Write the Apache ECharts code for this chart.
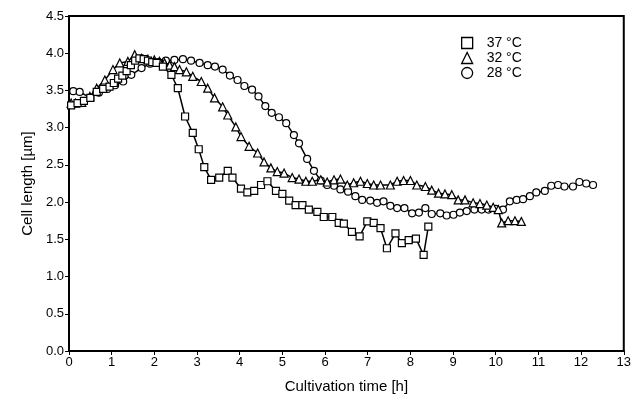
<!DOCTYPE html>
<html>
<head>
<meta charset="utf-8">
<script src="https://cdn.jsdelivr.net/npm/echarts@6/dist/echarts.min.js"></script>
<style>html,body{margin:0;padding:0;background:#fff}#c{width:634px;height:399px}</style>
</head>
<body>
<div id="c"></div>
<script>
const seriesNames = ['37 °C', '32 °C', '28 °C'];

const t37 = [0.05,0.2,0.35,0.5,0.65,0.8,0.95,1.05,1.15,1.25,1.35,1.45,1.55,1.65,1.75,1.85,1.95,2.05,2.2,2.4,2.55,2.72,2.9,3.04,3.17,3.33,3.52,3.72,3.83,4.03,4.18,4.34,4.5,4.65,4.85,5.0,5.16,5.31,5.47,5.62,5.82,5.97,6.17,6.32,6.44,6.63,6.81,6.99,7.14,7.3,7.45,7.65,7.8,7.96,8.13,8.31,8.42];
const v37 = [3.30,3.33,3.36,3.40,3.48,3.52,3.55,3.60,3.66,3.70,3.76,3.84,3.90,3.93,3.92,3.90,3.88,3.87,3.82,3.71,3.53,3.15,2.93,2.71,2.47,2.30,2.33,2.42,2.33,2.18,2.13,2.15,2.23,2.28,2.15,2.11,2.02,1.96,1.96,1.90,1.87,1.80,1.80,1.72,1.71,1.60,1.54,1.74,1.72,1.65,1.38,1.58,1.45,1.49,1.51,1.29,1.67];

const t32 = [0.05,0.15,0.3,0.49,0.65,0.84,1.03,1.19,1.38,1.54,1.7,1.85,2.0,2.12,2.24,2.36,2.47,2.59,2.75,2.9,3.1,3.25,3.41,3.6,3.72,3.91,4.03,4.22,4.42,4.57,4.73,4.88,5.04,5.23,5.39,5.55,5.7,5.9,6.05,6.21,6.36,6.52,6.67,6.83,6.99,7.14,7.3,7.53,7.69,7.84,8.0,8.15,8.35,8.5,8.66,8.81,8.97,9.12,9.28,9.47,9.63,9.79,9.94,10.06,10.14,10.29,10.45,10.6];
const v32 = [3.33,3.33,3.34,3.42,3.53,3.64,3.78,3.87,3.89,3.98,3.93,3.92,3.91,3.89,3.87,3.84,3.82,3.78,3.75,3.69,3.62,3.53,3.40,3.28,3.17,3.01,2.88,2.75,2.66,2.54,2.46,2.41,2.39,2.33,2.31,2.28,2.28,2.30,2.27,2.30,2.31,2.23,2.26,2.28,2.25,2.23,2.23,2.23,2.28,2.29,2.29,2.23,2.21,2.16,2.12,2.11,2.10,2.03,2.03,1.99,1.98,1.96,1.93,1.90,1.72,1.75,1.75,1.74];

const t28 = [0.1,0.25,0.5,0.7,0.9,1.08,1.27,1.46,1.7,1.9,2.1,2.27,2.47,2.67,2.86,3.06,3.25,3.42,3.6,3.77,3.95,4.11,4.29,4.44,4.6,4.75,4.92,5.09,5.27,5.39,5.58,5.74,5.9,6.05,6.21,6.36,6.54,6.71,6.87,7.06,7.22,7.37,7.53,7.69,7.86,8.04,8.2,8.35,8.5,8.7,8.85,9.01,9.16,9.32,9.5,9.67,9.83,10.0,10.17,10.33,10.49,10.64,10.8,10.95,11.15,11.3,11.46,11.61,11.81,11.96,12.12,12.28];
const v28 = [3.49,3.48,3.40,3.47,3.52,3.57,3.62,3.71,3.80,3.86,3.88,3.90,3.91,3.92,3.90,3.87,3.84,3.82,3.78,3.70,3.64,3.56,3.51,3.42,3.29,3.20,3.14,3.06,2.90,2.79,2.58,2.42,2.29,2.23,2.22,2.17,2.14,2.08,2.03,2.02,1.99,2.01,1.95,1.92,1.92,1.85,1.86,1.92,1.84,1.85,1.82,1.83,1.86,1.88,1.90,1.90,1.90,1.91,1.90,2.01,2.03,2.04,2.08,2.13,2.15,2.22,2.23,2.21,2.21,2.27,2.25,2.23];

const xTicks = [0,1,2,3,4,5,6,7,8,9,10,11,12,13];
const yTicks = [0.0,0.5,1.0,1.5,2.0,2.5,3.0,3.5,4.0,4.5];

function pairs(t, v) { return t.map((x, i) => [x, v[i]]); }

const FONT = '"Liberation Sans", Arial, sans-serif';
const symbols = ['rect', 'triangle', 'circle'];
const sizes = [7, 8, 7];
const data = [pairs(t37, v37), pairs(t32, v32), pairs(t28, v28)];

const chart = echarts.init(document.getElementById('c'), null, {renderer: 'canvas'});
chart.setOption({
  animation: false,
  backgroundColor: '#fff',
  textStyle: {fontFamily: FONT, color: '#000'},
  grid: {left: 69, right: 8, top: 16, bottom: 48, show: true, borderColor: '#000', borderWidth: 2, backgroundColor: 'transparent'},
  legend: {
    orient: 'vertical', left: 456, top: 31, itemGap: 1, itemWidth: 11, itemHeight: 11,
    textStyle: {fontFamily: FONT, fontSize: 14, color: '#000', lineHeight: 11, padding: [0, 0, 0, 9]},
    data: seriesNames.map((n, i) => ({name: n, icon: symbols[i], itemStyle: {color: '#fff', borderColor: '#000', borderWidth: 1.3}})),
    selectedMode: false
  },
  xAxis: {
    type: 'value', min: xTicks[0], max: xTicks[xTicks.length - 1], interval: 1,
    name: 'Cultivation time [h]', nameLocation: 'middle', nameGap: 28,
    nameTextStyle: {fontFamily: FONT, fontSize: 15, color: '#000'},
    axisLine: {show: true, lineStyle: {color: '#000', width: 2}},
    axisTick: {show: true, length: 4, lineStyle: {color: '#000', width: 1}},
    axisLabel: {fontFamily: FONT, fontSize: 13, color: '#000', margin: 5},
    splitLine: {show: false}
  },
  yAxis: {
    type: 'value', min: yTicks[0], max: yTicks[yTicks.length - 1], interval: 0.5,
    name: 'Cell length [µm]', nameLocation: 'middle', nameGap: 29,
    nameTextStyle: {fontFamily: FONT, fontSize: 15, color: '#000'},
    axisLine: {show: true, lineStyle: {color: '#000', width: 2}},
    axisTick: {show: true, length: 4, lineStyle: {color: '#000', width: 1}},
    axisLabel: {fontFamily: FONT, fontSize: 13, color: '#000', margin: 5, formatter: v => v.toFixed(1)},
    splitLine: {show: false}
  },
  series: seriesNames.map((n, i) => ({
    name: n, type: 'line', data: data[i],
    symbol: symbols[i], symbolSize: sizes[i], showAllSymbol: true,
    lineStyle: {color: '#000', width: 1.5},
    itemStyle: {color: '#fff', borderColor: '#000', borderWidth: 1.2},
    z: 3 - i
  }))
});
</script>
</body>
</html>
